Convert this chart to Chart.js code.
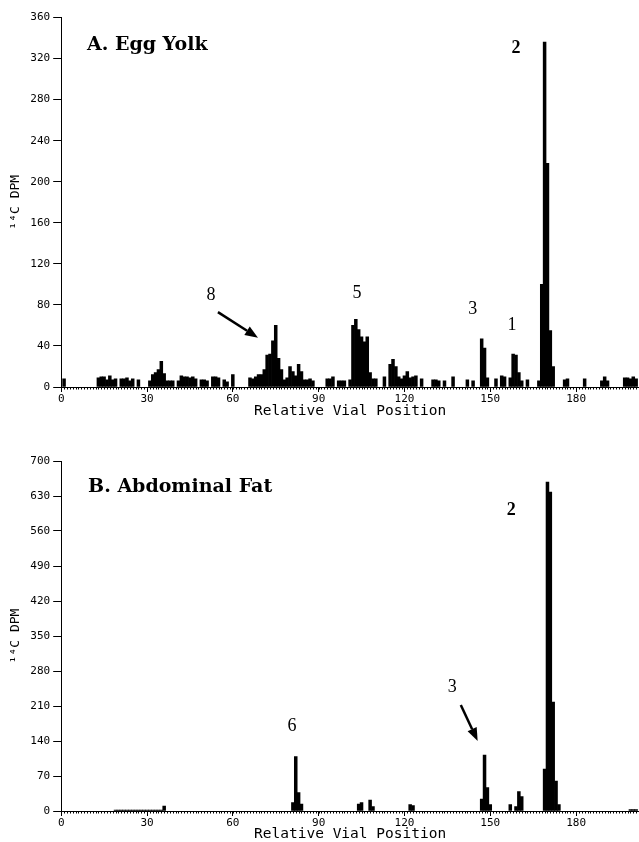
<!DOCTYPE html>
<html><head><meta charset="utf-8">
<script src="https://cdn.jsdelivr.net/npm/chart.js@4.4.1/dist/chart.umd.min.js"></script>
<style>
html,body{margin:0;padding:0;background:#fff;}
#wrap{position:relative;width:639px;height:842px;overflow:hidden;background:#fff;}
.c{position:absolute;left:0;width:639px;}
#ca{top:0;height:420px;}
#cb{top:420px;height:422px;}
</style></head><body>
<div id="wrap">
<div class="c" id="ca"><canvas id="chartA"></canvas></div>
<div class="c" id="cb"><canvas id="chartB"></canvas></div>
</div>
<script>
// ---- data ----
const xTickValues = [0, 30, 60, 90, 120, 150, 180];
const yTicksEgg = [0, 40, 80, 120, 160, 200, 240, 280, 320, 360];
const yTicksFat = [0, 70, 140, 210, 280, 350, 420, 490, 560, 630, 700];

const eggPositions = [1, 13,14,15,16,17,18,19, 21,22,23,24,25, 27, 31, 32,33,34,35,36, 37,38,39,
  41,42,43,44,45,46,47, 49,50,51, 53,54,55, 57,58, 60,
  66,67,68,69,70,71,72,73,74,75,76,77,78,79,80,81,82,83,84,85,86,87,88,
  93,94,95,97,98,99,101, 102,103,104,105,106,107,108,109,110,
  113,115,116,117,118,119,120,121,122,123,124,126,
  130,131,132,134,137, 142,144,147,148,149,
  152,154,155,157,158,159,160,161,163,
  167,168,169,170,171,172, 176,177,183,189,190,191, 197,198,199,200,201];
const eggDpm = [8, 9,10,10,7,11,7,8, 8,8,9,6,8, 7, 6, 12,14,17,25,13, 6,6,6,
  6,11,10,10,9,10,8, 7,7,6, 10,10,9, 7,5, 12,
  9,8,10,12,12,17,31,32,45,60,28,17,7,9,20,15,11,22,15,7,7,8,6,
  8,8,10,6,6,6,7, 60,66,56,49,44,49,14,8,8,
  10,22,27,20,10,8,11,15,9,10,11,8,
  7,7,6,6,10, 7,6,47,38,9,
  8,11,10,9,32,31,14,6,7,
  6,100,336,218,55,20, 7,8,8,6,10,6, 9,9,8,10,8];

const fatPositions = [19,20,21,22,23,24,25,26,27,28,29,30,31,32,33,34,35, 36,
  81,82,83,84, 104,105,108,109, 122,123,
  147,148,149,150, 157,159,160,161,
  169,170,171,172,173,174, 199,200,201];
const fatDpm = [2,2,2,2,2,2,2,2,2,2,2,2,2,2,2,2,2, 10,
  17,109,37,14, 14,17,22,9, 13,11,
  24,112,47,13, 13,9,39,29,
  84,658,638,218,60,13, 3,3,3];

const eggPeakLabels = ['8', '5', '3', '1', '2'];
const fatPeakLabels = ['6', '3', '2'];

// ---- annotation placement (data units) ----
const eggNotes = {
  title: {text: 'A. Egg Yolk', x: 9.0, y: 328},
  labels: [[52.4, 89], [103.4, 91], [143.9, 76], [157.6, 60], [159.0, 330]],
  bold: [false, false, false, false, true],
  arrow: {from: [54.8, 73], to: [68.8, 48]}
};
const fatNotes = {
  title: {text: 'B. Abdominal Fat', x: 9.4, y: 638},
  labels: [[80.7, 170], [136.7, 248], [157.3, 602]],
  bold: [false, false, true],
  arrow: {from: [139.7, 212], to: [145.6, 140]}
};

const MONO = '"DejaVu Sans Mono", monospace';

const notesPlugin = {
  id: 'notes',
  afterDraw(chart, args, opts) {
    const {ctx} = chart;
    const x = chart.scales.x, y = chart.scales.y;
    ctx.save();
    // minor ticks along x axis, one per vial
    ctx.strokeStyle = '#000';
    ctx.lineWidth = 1;
    ctx.beginPath();
    for (let v = x.min; v <= x.max; v++) {
      const px = Math.round(x.getPixelForValue(v)) + 0.5;
      ctx.moveTo(px, y.bottom);
      ctx.lineTo(px, y.bottom + 2.5);
    }
    ctx.stroke();
    // title
    ctx.fillStyle = '#000';
    ctx.textAlign = 'left';
    ctx.textBaseline = 'alphabetic';
    ctx.font = 'bold 19px "DejaVu Serif", serif';
    ctx.fillText(opts.notes.title.text, x.getPixelForValue(opts.notes.title.x), y.getPixelForValue(opts.notes.title.y));
    // peak labels
    ctx.textAlign = 'center';
    ctx.textBaseline = 'middle';
    opts.peakLabels.forEach((t, i) => {
      const p = opts.notes.labels[i];
      ctx.font = (opts.notes.bold[i] ? 'bold ' : '') + '18px "Liberation Serif", serif';
      ctx.fillText(t, x.getPixelForValue(p[0]), y.getPixelForValue(p[1]));
    });
    // arrow
    const a = opts.notes.arrow;
    const x1 = x.getPixelForValue(a.from[0]), y1 = y.getPixelForValue(a.from[1]);
    const x2 = x.getPixelForValue(a.to[0]), y2 = y.getPixelForValue(a.to[1]);
    const ang = Math.atan2(y2 - y1, x2 - x1);
    const hl = 13, hw = 5;
    const bx = x2 - hl * Math.cos(ang), by = y2 - hl * Math.sin(ang);
    ctx.lineWidth = 2.5;
    ctx.beginPath();
    ctx.moveTo(x1, y1);
    ctx.lineTo(bx, by);
    ctx.stroke();
    ctx.beginPath();
    ctx.moveTo(x2, y2);
    ctx.lineTo(bx + hw * Math.sin(ang), by - hw * Math.cos(ang));
    ctx.lineTo(bx - hw * Math.sin(ang), by + hw * Math.cos(ang));
    ctx.closePath();
    ctx.fill();
    ctx.restore();
  }
};

function makeChart(id, positions, values, yTicks, yMax, xHeight, padTop, notes, peakLabels, titlePadBottom) {
  const data = positions.map((p, i) => ({x: p, y: values[i]}));
  return new Chart(document.getElementById(id), {
    type: 'bar',
    data: {datasets: [{data, backgroundColor: '#000', borderWidth: 0, barPercentage: 1, categoryPercentage: 1}]},
    options: {
      responsive: true, maintainAspectRatio: false, animation: false, devicePixelRatio: 1,
      layout: {padding: {top: padTop, left: 0, right: 0, bottom: 0}},
      plugins: {legend: {display: false}, tooltip: {enabled: false},
        notes: {notes, peakLabels}},
      scales: {
        x: {
          type: 'linear', min: 0, max: 202, offset: false,
          grid: {offset: false, drawOnChartArea: false, drawTicks: true, tickLength: 5, color: '#000', lineWidth: 1},
          border: {display: true, color: '#000', width: 1},
          afterBuildTicks: s => { s.ticks = xTickValues.map(v => ({value: v})); },
          afterFit: s => { s.height = xHeight; },
          ticks: {autoSkip: false, maxRotation: 0, padding: 1, color: '#000', font: {family: MONO, size: 11}},
          title: {display: true, text: 'Relative Vial Position', color: '#000',
            font: {family: MONO, size: 14.5, lineHeight: 1}, padding: {top: 0, bottom: titlePadBottom}}
        },
        y: {
          type: 'linear', min: 0, max: yMax,
          grid: {drawOnChartArea: false, drawTicks: true, tickLength: 8, color: '#000', lineWidth: 1},
          border: {display: true, color: '#000', width: 1},
          afterBuildTicks: s => { s.ticks = yTicks.map(v => ({value: v})); },
          afterFit: s => { s.width = 61.2; },
          ticks: {autoSkip: false, padding: 3, color: '#000', font: {family: MONO, size: 11}},
          title: {display: true, text: '¹⁴C DPM', color: '#000',
            font: {family: MONO, size: 13, lineHeight: 1.2}, padding: {top: 8, bottom: 0}}
        }
      }
    },
    plugins: [notesPlugin]
  });
}

makeChart('chartA', eggPositions, eggDpm, yTicksEgg, 360, 33, 17.5, eggNotes, eggPeakLabels, 2);
makeChart('chartB', fatPositions, fatDpm, yTicksFat, 700, 31, 41, fatNotes, fatPeakLabels, 1);
</script>
</body></html>
